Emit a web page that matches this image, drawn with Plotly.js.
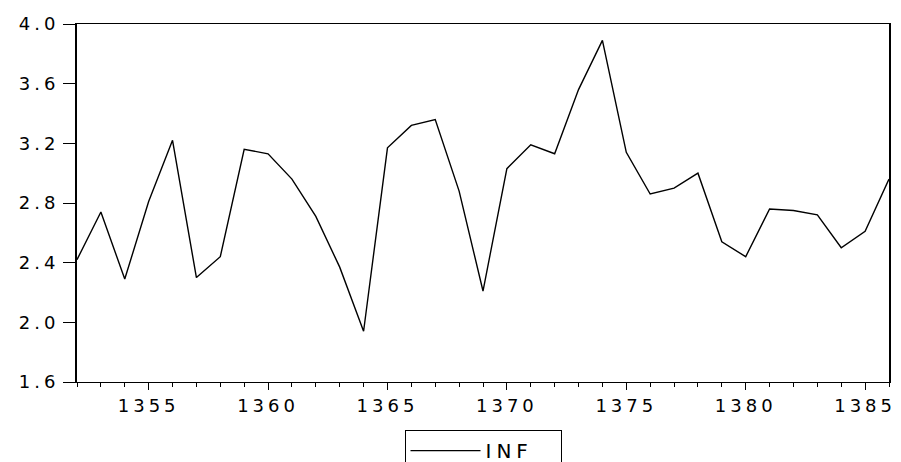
<!DOCTYPE html>
<html>
<head>
<meta charset="utf-8">
<script src="https://cdn.plot.ly/plotly-3.0.1.min.js"></script>
<style>
html,body{margin:0;padding:0;background:#fff;}
#chart{width:901px;height:462px;}
.xtick text,.ytick text{letter-spacing:4px;}
.legendtext{letter-spacing:5px;}
</style>
</head>
<body>
<div id="chart"></div>
<script>
const years = [1352,1353,1354,1355,1356,1357,1358,1359,1360,1361,1362,1363,1364,1365,1366,1367,1368,1369,1370,1371,1372,1373,1374,1375,1376,1377,1378,1379,1380,1381,1382,1383,1384,1385,1386];
const infValues = [2.42,2.74,2.29,2.81,3.22,2.30,2.44,3.16,3.13,2.96,2.71,2.37,1.94,3.17,3.32,3.36,2.88,2.21,3.03,3.19,3.13,3.56,3.89,3.14,2.86,2.90,3.00,2.54,2.44,2.76,2.75,2.72,2.50,2.61,2.96];
const seriesName = 'INF';

const trace = {
  x: years,
  y: infValues,
  type: 'scatter',
  mode: 'lines',
  name: seriesName,
  line: {color: '#000', width: 1.4},
  showlegend: true
};

const layout = {
  width: 901,
  height: 462,
  margin: {l: 77, r: 12, t: 24, b: 80},
  paper_bgcolor: '#fff',
  plot_bgcolor: '#fff',
  font: {family: 'DejaVu Sans, Arial, sans-serif', size: 17, color: '#000'},
  showlegend: true,
  xaxis: {
    range: [1352, 1386],
    tick0: 1355,
    dtick: 5,
    ticks: 'outside',
    ticklen: 7,
    tickwidth: 1,
    tickcolor: '#000',
    showgrid: false,
    zeroline: false,
    showline: true,
    linecolor: '#000',
    linewidth: 1,
    mirror: true,
    automargin: false,
    minor: {dtick: 1, tick0: 1352, ticks: 'outside', ticklen: 4, tickwidth: 1, tickcolor: '#000', showgrid: false},
    tickfont: {size: 18, color: '#000'}
  },
  yaxis: {
    range: [1.6, 4.0],
    tick0: 1.6,
    dtick: 0.4,
    tickformat: '.1f',
    ticks: 'outside',
    ticklen: 12,
    tickwidth: 1,
    tickcolor: '#000',
    showgrid: false,
    zeroline: false,
    showline: true,
    linecolor: '#000',
    linewidth: 2,
    mirror: true,
    automargin: false,
    tickfont: {size: 18, color: '#000'}
  },
  legend: {
    orientation: 'h',
    x: 0.5,
    xanchor: 'center',
    xref: 'paper',
    y: 0.069,
    yref: 'container',
    yanchor: 'top',
    bordercolor: '#000',
    borderwidth: 1,
    bgcolor: '#fff',
    font: {size: 20, color: '#000'},
    entrywidth: 70,
    itemwidth: 70
  }
};

Plotly.newPlot('chart', [trace], layout, {displayModeBar: false, staticPlot: true});
</script>
</body>
</html>
